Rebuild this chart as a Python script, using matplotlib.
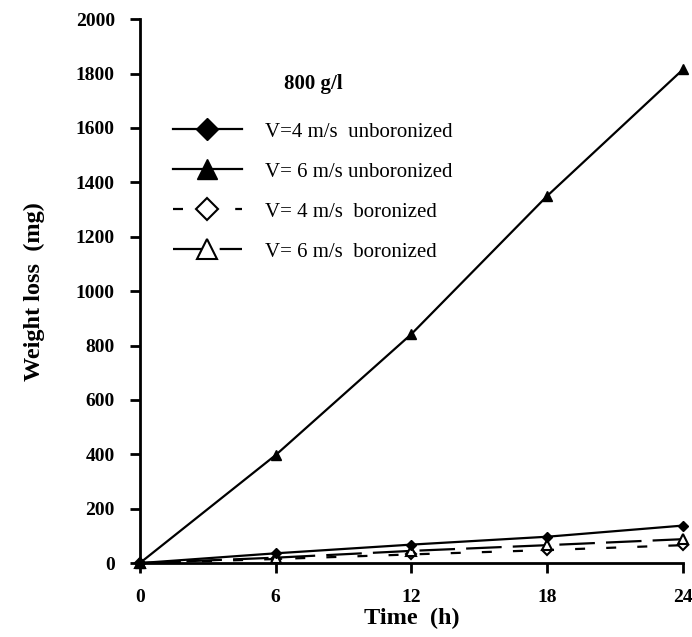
import numpy as np
import matplotlib.pyplot as plt

# values
time_h = [0, 6, 12, 18, 24]
v4_unboronized = [0, 36, 68, 97, 138]
v6_unboronized = [0, 397, 842, 1350, 1815]
v4_boronized = [0, 15, 32, 48, 66]
v6_boronized = [0, 20, 45, 66, 88]

plt.rcParams['font.family'] = ['Liberation Serif', 'DejaVu Serif']

fig = plt.figure(figsize=(6.92, 6.37), dpi=100)
ax = fig.add_axes([0.202, 0.116, 0.785, 0.854])

ax.plot(time_h, v4_unboronized, color='black', lw=1.6, marker='D', ms=4.8,
        clip_on=False, label='V=4 m/s  unboronized', zorder=5)
ax.plot(time_h, v6_unboronized, color='black', lw=1.6, marker='^', ms=6.5,
        clip_on=False, label='V= 6 m/s unboronized', zorder=5)
ax.plot(time_h, v4_boronized, color='black', lw=1.6, ls=(0, (4.5, 9.5)), marker='D', ms=4.8,
        mfc='white', mew=1.5, clip_on=False, label='V= 4 m/s  boronized', zorder=4)
ax.plot(time_h, v6_boronized, color='black', lw=1.6, ls=(0, (16, 5)), marker='^', ms=6.5,
        mfc='white', mew=1.5, clip_on=False, label='V= 6 m/s  boronized', zorder=4)

ax.set_xlim(0, 24)
ax.set_ylim(0, 2000)
ax.set_xticks([0, 6, 12, 18, 24])
ax.set_yticks(np.arange(0, 2001, 200))
for lab in ax.get_xticklabels() + ax.get_yticklabels():
    lab.set_fontweight('bold')
ax.tick_params(labelsize=14, width=2, length=7, direction='out')
ax.tick_params(axis='x', pad=12)
ax.tick_params(axis='y', pad=11)
ax.spines['top'].set_visible(False)
ax.spines['right'].set_visible(False)
ax.spines['left'].set_linewidth(2)
ax.spines['bottom'].set_linewidth(2)

ax.set_xlabel('Time  (h)', fontsize=17.5, fontweight='bold', labelpad=1)
ax.set_ylabel('Weight loss  (mg)', fontsize=17.5, fontweight='bold', labelpad=22)

fig.text(313 / 692, 1 - 84 / 637, '800 g/l', fontsize=15, fontweight='bold',
         ha='center', va='center')
ax.legend(loc='upper left', bbox_to_anchor=(173 / 692, 1 - 122 / 637),
          bbox_transform=fig.transFigure, frameon=False, borderpad=0, borderaxespad=0,
          fontsize=15, handlelength=3.3, handletextpad=1.1, labelspacing=0.98,
          markerscale=2.3)

fig.savefig('out.png', dpi=100)
